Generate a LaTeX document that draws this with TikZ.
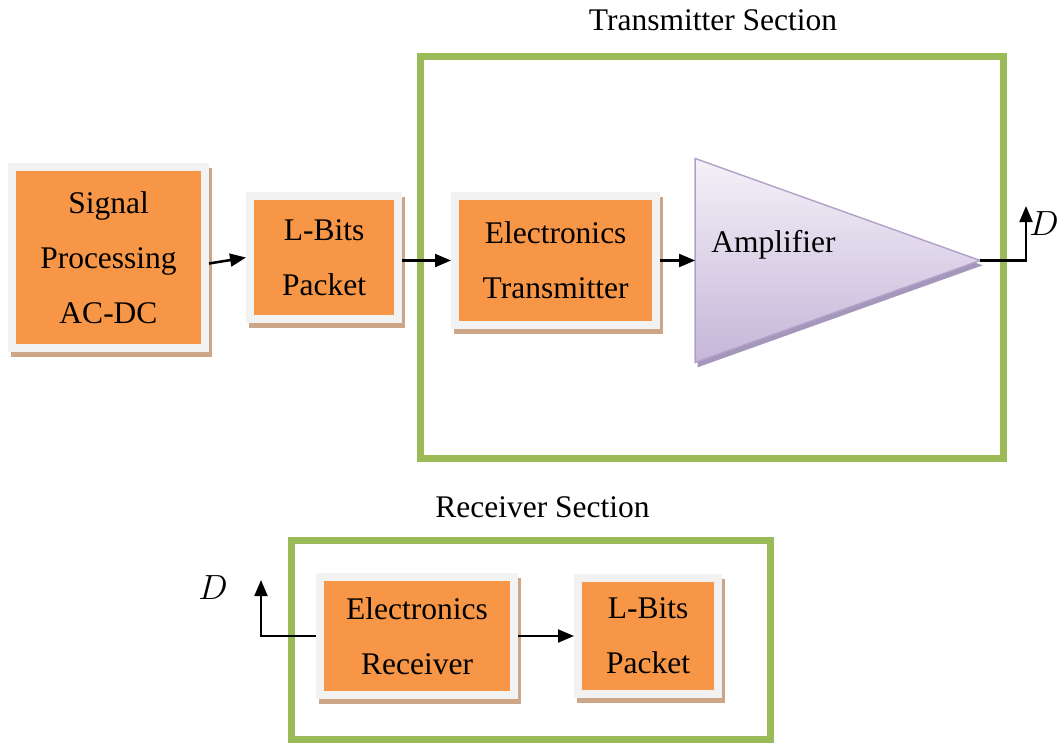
\documentclass[tikz,border=0pt]{standalone}
\usepackage{fontspec}
\setmainfont{Liberation Serif}
\usepackage{tikz}
\usetikzlibrary{arrows.meta,shapes.geometric,positioning,shadows}

\definecolor{boxorange}{HTML}{F79646}
\definecolor{framegray}{HTML}{F2F2F2}
\definecolor{shadowtan}{HTML}{CDA587}
\definecolor{sectiongreen}{HTML}{9BBB59}
\definecolor{ampborder}{HTML}{B2A1C7}
\definecolor{amptop}{HTML}{F4F1F8}
\definecolor{ampbottom}{HTML}{C5B6D9}
\definecolor{ampshadow}{HTML}{A596BB}
\newcommand{\blockfont}{\rmfamily\fontsize{22.4}{39}\selectfont}
\newcommand{\dfont}{\fontsize{25}{28}\selectfont}

\begin{document}
\begin{tikzpicture}[
    x=0.025cm, y=-0.025cm,
    block/.style={rectangle,fill=framegray,inner sep=0pt,outer sep=0pt,align=center,font=\blockfont,
        drop shadow={shadow xshift=0.08cm,shadow yshift=-0.12cm,fill=shadowtan,opacity=1},
        path picture={\fill[boxorange] ([shift={(0.2cm,0.2cm)}]path picture bounding box.south west)
            rectangle ([shift={(-0.2cm,-0.2cm)}]path picture bounding box.north east);}},
    amp/.style={isosceles triangle,isosceles triangle stretches,inner sep=0pt,outer sep=0pt,
        minimum width=5.1cm,minimum height=7.125cm,draw=ampborder,line width=1pt,
        top color=amptop,bottom color=ampbottom,
        drop shadow={shadow xshift=0.06cm,shadow yshift=-0.12cm,fill=ampshadow,opacity=1}},
    section/.style={rectangle,draw=sectiongreen,line width=0.175cm,inner sep=0pt},
    txt/.style={font=\blockfont,inner sep=0pt},
    arrow/.style={line width=1.8pt,-{Triangle[length=0.4cm,width=0.32cm]}}
]
    \useasboundingbox (0,0) rectangle (1057,742);

    % transmitter side
    \node[section,minimum width=14.5625cm,minimum height=10.0375cm] (tx) at (712.25,257.25) {};
    \node[txt] (txtitle) at (713,20) {Transmitter Section};

    \node[block,minimum width=5.025cm,minimum height=4.725cm] (sp) at (108.5,257.5) {Signal\\Processing\\AC-DC};
    \node[block,minimum width=3.9cm,minimum height=3.275cm,right=0.925cm of sp] (lb1) {L-Bits\\Packet};
    \node[block,minimum width=5.225cm,minimum height=3.425cm,right=1.225cm of lb1,yshift=-0.075cm] (et) {Electronics\\Transmitter};
    \node[amp,right=0.875cm of et] (amp) {};
    \node[txt,anchor=west] (amptext) at ([xshift=0.4cm,yshift=0.4cm]amp.west) {Amplifier};

    \coordinate (dout) at (1026,206);
    \node[font=\dfont,inner sep=0pt] (dtx) at (1044,224) {$D$};

    \draw[arrow] ([yshift=-0.15cm]sp.east) -- (lb1.west);
    \draw[arrow] (lb1.east |- et.west) -- (et.west);
    \draw[arrow] (et.east) -- (amp.west);
    \draw[arrow] (amp.apex) -| (dout);

    % receiver side
    \node[section,minimum width=11.9625cm,minimum height=4.9625cm] (rx) at (530.75,639.75) {};
    \node[txt] (rxtitle) at (542.5,507) {Receiver Section};

    \node[block,minimum width=5.05cm,minimum height=3.15cm] (er) at (417,636) {Electronics\\Receiver};
    \node[block,minimum width=3.7cm,minimum height=3.1cm,right=1.4cm of er] (lb2) {L-Bits\\Packet};

    \coordinate (din) at (261,580);
    \node[font=\dfont,inner sep=0pt] (drx) at (213,588) {$D$};

    \draw[arrow] (er.east) -- (lb2.west);
    \draw[arrow] (er.west) -| (din);
\end{tikzpicture}
\end{document}
